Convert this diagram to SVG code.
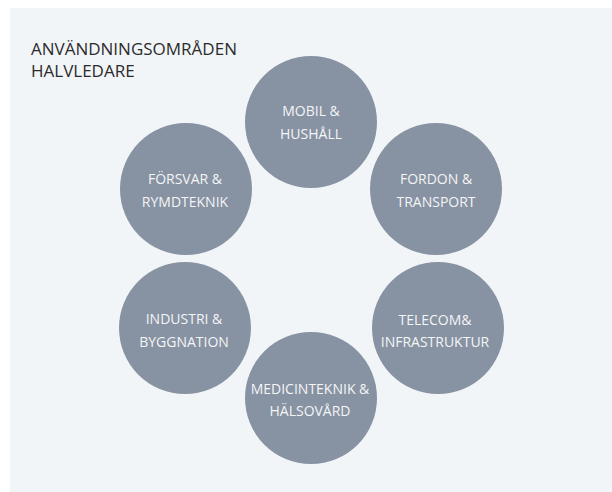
<svg xmlns="http://www.w3.org/2000/svg" width="612" height="492" viewBox="0 0 612 492">
<style>
.bg{fill:#f2f5f8}
.c{fill:#8792a2}
.t{font-family:"Open Sans","Noto Sans",sans-serif;font-size:14px;fill:#f4f5f7;text-anchor:middle}
.title{font-family:"Open Sans","Noto Sans",sans-serif;font-size:17px;fill:#2b2b2b}
</style>
<rect x="0" y="0" width="612" height="492" fill="#ffffff"/>
<rect class="bg" x="10" y="8" width="602" height="484"/>
<g id="title">
<text class="title" x="31" y="55">ANVÄNDNINGSOMRÅDEN</text>
<text class="title" x="31" y="77">HALVLEDARE</text>
</g>
<g id="connectors"></g>
<g id="mobil">
<circle class="c" cx="311" cy="122" r="66"/>
<text class="t" x="311" y="116">MOBIL &amp;</text>
<text class="t" x="311" y="139">HUSHÅLL</text>
</g>
<g id="forsvar">
<circle class="c" cx="186" cy="189" r="66"/>
<text class="t" x="185" y="184">FÖRSVAR &amp;</text>
<text class="t" x="185" y="207">RYMDTEKNIK</text>
</g>
<g id="fordon">
<circle class="c" cx="436" cy="189" r="66"/>
<text class="t" x="436" y="184">FORDON &amp;</text>
<text class="t" x="436" y="207">TRANSPORT</text>
</g>
<g id="industri">
<circle class="c" cx="185" cy="328" r="66"/>
<text class="t" x="184" y="324">INDUSTRI &amp;</text>
<text class="t" x="184" y="347">BYGGNATION</text>
</g>
<g id="telecom">
<circle class="c" cx="438" cy="328" r="66"/>
<text class="t" x="435" y="325">TELECOM&amp;</text>
<text class="t" x="435" y="347">INFRASTRUKTUR</text>
</g>
<g id="medicin">
<circle class="c" cx="311" cy="398" r="66"/>
<text class="t" x="310" y="394">MEDICINTEKNIK &amp;</text>
<text class="t" x="310" y="416">HÄLSOVÅRD</text>
</g>
</svg>
